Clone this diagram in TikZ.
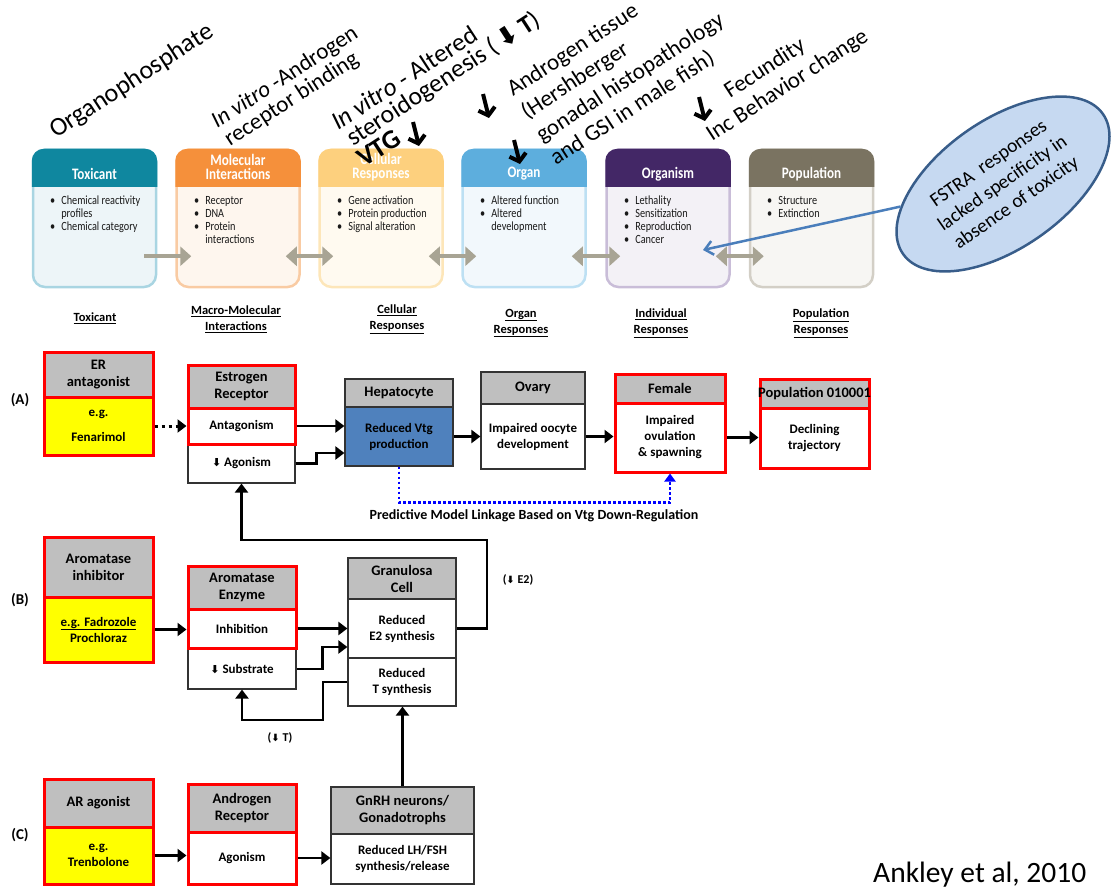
\documentclass[tikz,border=0pt]{standalone}
\usepackage{fontspec}
\setmainfont{Carlito}
\newfontfamily\condf[FakeStretch=0.82]{Carlito}
\newfontfamily\symf{DejaVu Sans}
\usetikzlibrary{arrows.meta,calc,shapes.geometric}
\definecolor{garrow}{HTML}{A8A494}
\definecolor{hgray}{HTML}{BFBFBF}
\definecolor{hepblue}{HTML}{4F81BD}
\definecolor{ellf}{HTML}{C6D9F1}
\definecolor{ellb}{HTML}{385D8A}
\definecolor{arrb}{HTML}{4A7EBB}
\definecolor{ayellow}{HTML}{FFFF00}
\definecolor{chA}{HTML}{0F879F}\definecolor{cbA}{HTML}{EDF5F8}\definecolor{ceA}{HTML}{A9D5E2}
\definecolor{chB}{HTML}{F5903B}\definecolor{cbB}{HTML}{FEF6EE}\definecolor{ceB}{HTML}{F9CBA3}
\definecolor{chC}{HTML}{FDD07E}\definecolor{cbC}{HTML}{FFFAF0}\definecolor{ceC}{HTML}{FDE6B9}
\definecolor{chD}{HTML}{5DAEDD}\definecolor{cbD}{HTML}{F2F8FC}\definecolor{ceD}{HTML}{BDE0F3}
\definecolor{chE}{HTML}{432766}\definecolor{cbE}{HTML}{F3F1F6}\definecolor{ceE}{HTML}{C9BDD8}
\definecolor{chF}{HTML}{7A7361}\definecolor{cbF}{HTML}{F7F6F3}\definecolor{ceF}{HTML}{D3CFC6}
\newcommand{\topbox}[5]{%
  \node[tbox, fill=#4, draw=#5] (#1) at (#2,218.5) {};
  \begin{scope}
    \clip ($(#1.north west)+(-4,-4)$) rectangle ($(#1.north east)+(4,38)$);
    \fill[#3, rounded corners=12pt] (#1.south west) rectangle (#1.north east);
  \end{scope}}
\newcommand{\dnglyph}{{\symf\bfseries ⬇}}
\begin{document}
\begin{tikzpicture}[x=1pt,y=-1pt,
  tbox/.style={rounded corners=12pt, minimum width=123, minimum height=137, line width=2.5pt, inner sep=0},
  ttitle/.style={text=white, font=\condf\bfseries\fontsize{16}{14}\selectfont, align=center, inner sep=0},
  blist/.style={anchor=north west, inner sep=0, font=\condf\fontsize{12.5}{13}\selectfont, text=black!90},
  lvl/.style={font=\bfseries\fontsize{12.5}{16}\selectfont, align=center, inner sep=0},
  ann/.style={anchor=base west, rotate=33, inner sep=0, font=\fontsize{23}{28}\selectfont},
  annb/.style={ann, font=\fontsize{25.5}{28}\selectfont},
  thickar/.style={line width=4pt, -{Straight Barb[length=7pt,width=17pt,line width=4pt]}},
  garr/.style={line width=4pt, draw=garrow},
  gtip/.tip={Triangle[length=11pt,width=19pt]},
  cellk/.style={draw=black!80, line width=1.2pt, inner sep=0, align=center},
  cellr/.style={draw=red, line width=3pt, inner sep=0, align=center},
  hd/.style={fill=hgray, font=\bfseries\fontsize{14.5}{17}\selectfont},
  bd/.style={font=\bfseries\fontsize{13}{16}\selectfont},
  yb/.style={fill=ayellow},
  bx/.style 2 args={minimum width=#1, minimum height=#2},
  conn/.style={line width=2.5pt, -{Triangle[length=9pt,width=13pt]}},
  smar/.style={font=\bfseries\fontsize{12}{14}\selectfont, inner sep=0}
]
\useasboundingbox (0,0) rectangle (1111,888);

% ---------- top panel boxes ----------
\topbox{tb1}{94.5}{chA}{cbA}{ceA}
\topbox{tb2}{238}{chB}{cbB}{ceB}
\topbox{tb3}{381}{chC}{cbC}{ceC}
\topbox{tb4}{524}{chD}{cbD}{ceD}
\topbox{tb5}{668}{chE}{cbE}{ceE}
\topbox{tb6}{811.5}{chF}{cbF}{ceF}

\node[ttitle] (tb1t) at (94.5,174) {Toxicant};
\node[ttitle] (tb2t) at (238,167) {Molecular\\Interactions};
\node[ttitle] (tb3t) at (381,167) {Cellular\\Responses};
\node[ttitle] (tb4t) at (524,174) {Organ};
\node[ttitle] (tb5t) at (668,174) {Organism};
\node[ttitle] (tb6t) at (811.5,174) {Population};

\node[blist] (tb1l) at (50,195) {\begin{tabular}{@{}l@{\hspace{6pt}}l@{}}•&Chemical reactivity\\&profiles\\•&Chemical category\end{tabular}};
\node[blist] (tb2l) at (194,195) {\begin{tabular}{@{}l@{\hspace{6pt}}l@{}}•&Receptor\\•&DNA\\•&Protein\\&interactions\end{tabular}};
\node[blist] (tb3l) at (337,195) {\begin{tabular}{@{}l@{\hspace{6pt}}l@{}}•&Gene activation\\•&Protein production\\•&Signal alteration\end{tabular}};
\node[blist] (tb4l) at (480,195) {\begin{tabular}{@{}l@{\hspace{6pt}}l@{}}•&Altered function\\•&Altered\\&development\end{tabular}};
\node[blist] (tb5l) at (624,195) {\begin{tabular}{@{}l@{\hspace{6pt}}l@{}}•&Lethality\\•&Sensitization\\•&Reproduction\\•&Cancer\end{tabular}};
\node[blist] (tb6l) at (767,195) {\begin{tabular}{@{}l@{\hspace{6pt}}l@{}}•&Structure\\•&Extinction\end{tabular}};

\draw[garr, -gtip] ($(tb1.south east)+(-13,-32)$) -- ($(tb2.south west)+(16,-32)$);
\draw[garr, gtip-gtip] ($(tb2.south east)+(-15,-32)$) -- ($(tb3.south west)+(15,-32)$);
\draw[garr, gtip-gtip] ($(tb3.south east)+(-15,-32)$) -- ($(tb4.south west)+(15,-32)$);
\draw[garr, gtip-gtip] ($(tb4.south east)+(-15,-32)$) -- ($(tb5.south west)+(15,-32)$);
\draw[garr, gtip-gtip] ($(tb5.south east)+(-15,-32)$) -- ($(tb6.south west)+(15,-32)$);

\node[lvl] (lv1) at (95,318) {\underline{Toxicant}};
\node[lvl] (lv2) at (236,319) {\underline{Macro-Molecular}\\\underline{Interactions}};
\node[lvl] (lv3) at (397,319) {\underline{Cellular}\\\underline{Responses}};
\node[lvl] (lv4) at (521,323) {\underline{Organ}\\\underline{Responses}};
\node[lvl] (lv5) at (661,323) {\underline{Individual}\\\underline{Responses}};
\node[lvl] (lv6) at (821,323) {\underline{Population}\\\underline{Responses}};

% ---------- annotations ----------
\node[ann, font=\fontsize{26}{28}\selectfont] (an1) at (56,139) {Organophosphate};
\node[ann] (an2) at (217,129) {\textit{In vitro} -Androgen};
\node[ann] (an3) at (230,147) {receptor binding};
\node[annb] (an4) at (338,131) {\textit{In vitro} - Altered};
\node[annb] (an5) at (353,147) {steroidogenesis (\,\textbf{\dnglyph\,T})};
\node[ann, font=\bfseries\fontsize{27}{28}\selectfont] (an6) at (364,168) {VTG};
\draw[thickar] (413,122) -- (419,146);
\draw[thickar] (483,94) -- (489,118);
\draw[thickar] (514,140) -- (520,164);
\draw[thickar] (699,97) -- (705,121);
\node[ann] (an7) at (513,97) {Androgen tissue};
\node[ann] (an8) at (527,120) {(Hershberger};
\node[ann] (an9) at (542,143) {gonadal histopathology};
\node[ann] (an10) at (556,166) {and GSI in male fish)};
\node[ann] (an11) at (730,99) {Fecundity};
\node[ann] (an12) at (712,142) {Inc Behavior change};

\node[ellipse, draw=ellb, fill=ellf, line width=2.5pt, minimum width=244, minimum height=128, inner sep=0, rotate=35, align=center, font=\fontsize{19.5}{24}\selectfont] (fstra) at (1003,184) {FSTRA\ \ responses\\lacked specificity in\\absence of toxicity};
\coordinate (fsttip) at (703,250);
\draw[line width=2.5pt, draw=arrb, -{Straight Barb[length=8pt,width=14pt]}] (fstra) -- (fsttip);

% ---------- row A ----------
\node[font=\bfseries\fontsize{15}{16}\selectfont] (lA) at (20,400) {(A)};
\node[cellk,hd,bx={108}{28}] (heph) at (399,393) {Hepatocyte};
\node[cellk,bd,bx={108}{59},fill=hepblue] (hepb) at (399,436.5) {Reduced Vtg\\production};
\node[cellk,hd,bx={104}{32}] (ovh) at (533,388) {Ovary};
\node[cellk,bd,bx={104}{65},fill=white] (ovb) at (533,436.5) {Impaired oocyte\\development};
\node[cellk,bd,bx={107}{39},fill=white] (ago) at (241.5,463.5) {{\fontsize{11}{12}\selectfont\dnglyph} Agonism};
\node[cellr,hd,bx={109}{45}] (erh) at (98.5,374.5) {ER\\antagonist};
\node[cellr,bd,bx={109}{58},yb] (erb) at (98.5,426) {e.g.\\[9pt]Fenarimol};
\node[cellr,hd,bx={107}{43}] (esh) at (241.5,386.5) {Estrogen\\Receptor};
\node[cellr,bd,bx={107}{36},fill=white] (ant) at (241.5,426) {Antagonism};
\node[cellr,hd,bx={110}{29}] (femh) at (670,388.5) {Female};
\node[cellr,bd,bx={110}{69},fill=white] (femb) at (670,437.5) {Impaired\\ovulation\\\& spawning};
\node[cellr,hd,bx={109}{29}] (poph) at (814.5,393.5) {\makebox[0pt]{Population 010001}};
\node[cellr,bd,bx={109}{60},fill=white] (popb) at (814.5,438) {Declining\\trajectory};

\draw[line width=3pt, dash pattern=on 3pt off 4pt, -{Triangle[length=9pt,width=13pt]}] (erb.east) -- (erb.east -| ant.west);
\draw[conn] (ant.east) -- (ant.east -| hepb.west);
\draw[conn] (ago.east) -- ++(21,0) |- ($(hepb.west)+(0,16.5)$);
\draw[conn] (hepb.east) -- (hepb.east -| ovb.west);
\draw[conn] (ovb.east) -- (ovb.east -| femb.west);
\draw[conn] (femb.east) -- (femb.east -| popb.west);
\draw[blue, line width=2.5pt, dash pattern=on 2.5pt off 2.5pt, -{Triangle[length=8pt,width=11pt]}] (hepb.south) -- ++(0,36) -| (femb.south);
\node[font=\bfseries\fontsize{14}{16}\selectfont] (plm) at (534,516) {Predictive Model Linkage Based on Vtg Down-Regulation};

% ---------- row B ----------
\node[font=\bfseries\fontsize{15}{16}\selectfont] (lB) at (20,600) {(B)};
\node[cellk,bd,bx={108}{40},fill=white] (sub) at (242,669) {{\fontsize{11}{12}\selectfont\dnglyph} Substrate};
\node[cellk,hd,bx={108}{41}] (grh) at (402,578.5) {Granulosa\\Cell};
\node[cellk,bd,bx={108}{59},fill=white] (gre2) at (402,628.5) {Reduced\\E2 synthesis};
\node[cellk,bd,bx={108}{48},fill=white] (grt) at (402,682) {Reduced\\T synthesis};
\node[cellr,hd,bx={109}{60}] (aih) at (98.5,567) {Aromatase\\inhibitor};
\node[cellr,bd,bx={109}{65},yb] (aib) at (98.5,629.5) {\underline{e.g. Fadrozole}\\Prochloraz};
\node[cellr,hd,bx={108}{43}] (aeh) at (242,587.5) {Aromatase\\Enzyme};
\node[cellr,bd,bx={108}{39},fill=white] (inh) at (242,628.5) {Inhibition};

\draw[conn] (aib.east) -- (aib.east -| inh.west);
\draw[conn] (inh.east) -- (inh.east -| gre2.west);
\draw[conn] (sub.east) -- ++(26,0) |- ($(gre2.west)+(0,18.5)$);
\coordinate (fbk) at (487,540);
\draw[conn] (gre2.east) -| (fbk) -| (ago.south);
\coordinate (tfb) at (323,720);
\draw[conn] (grt.west) -| (tfb) -| (sub.south);
\node[smar] (lE2) at (518,580) {({\fontsize{10}{12}\selectfont\dnglyph} E2)};
\node[smar] (lT) at (280,738) {({\fontsize{10}{12}\selectfont\dnglyph} T)};

% ---------- row C ----------
\node[font=\bfseries\fontsize{15}{16}\selectfont] (lC) at (20,835) {(C)};
\node[cellk,hd,bx={143}{47}] (gnh) at (402.5,810.5) {GnRH neurons/\\Gonadotrophs};
\node[cellk,bd,bx={143}{50},fill=white] (gnb) at (402.5,859) {Reduced LH/FSH\\synthesis/release};
\node[cellr,hd,bx={109}{48}] (arh) at (98.5,803) {AR agonist};
\node[cellr,bd,bx={109}{57},yb] (arb) at (98.5,855.5) {e.g.\\Trenbolone};
\node[cellr,hd,bx={108}{48}] (anh) at (242,808) {Androgen\\Receptor};
\node[cellr,bd,bx={108}{52},fill=white] (agc) at (242,858) {Agonism};

\draw[conn] (arb.east) -- (arb.east -| agc.west);
\draw[conn] (agc.east) -- (agc.east -| gnb.west);
\draw[conn] (gnh.north) -- (gnh.north |- grt.south);

\node[anchor=base west, inner sep=0, font=\fontsize{29.5}{30}\selectfont] (cite) at (873,882) {Ankley et al, 2010};
\end{tikzpicture}
\end{document}
